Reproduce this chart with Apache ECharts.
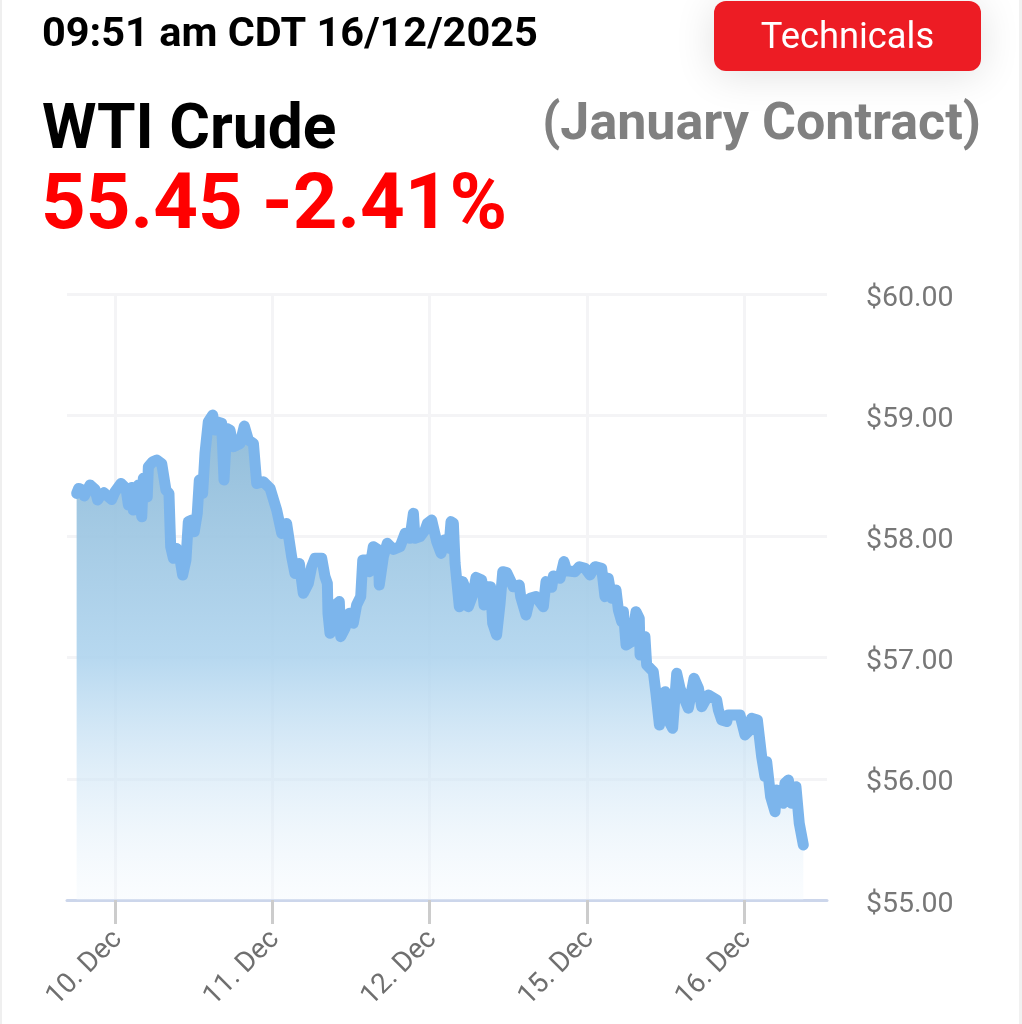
<!DOCTYPE html>
<html>
<head>
<meta charset="utf-8">
<title>WTI Crude</title>
<script src="https://cdn.jsdelivr.net/npm/echarts@6/dist/echarts.min.js"></script>
<style>
  html, body { margin: 0; padding: 0; background: #fff; }
  #chart { width: 1022px; height: 1024px; }
</style>
</head>
<body>
<div id="chart"></div>
<script>
// x is trading days counted from the 10. Dec tick, y is the price in dollars
const days = [
  -0.244,-0.231,-0.206,-0.195,-0.159,-0.127,-0.110,-0.091,-0.070,-0.042,-0.021,0.000,0.038,0.070,0.085,0.106,0.116,0.148,0.170,0.180,
  0.205,0.212,0.239,0.265,0.297,0.324,0.343,0.354,0.371,0.392,0.409,0.430,0.451,0.466,0.487,0.504,0.523,0.536,0.557,0.572,
  0.593,0.621,0.636,0.646,0.678,0.693,0.710,0.731,0.752,0.795,0.822,0.848,0.880,0.901,0.943,0.986,1.028,1.060,1.091,1.123,
  1.144,1.172,1.197,1.229,1.250,1.271,1.314,1.335,1.350,1.354,1.367,1.388,1.426,1.435,1.462,1.490,1.515,1.536,1.562,1.575,
  1.596,1.617,1.642,1.674,1.680,1.706,1.731,1.770,1.812,1.844,1.875,1.897,1.907,1.939,1.971,1.986,2.013,2.045,2.073,2.092,
  2.123,2.136,2.151,2.162,2.189,2.210,2.231,2.246,2.278,2.295,2.331,2.346,2.367,2.388,2.401,2.426,2.448,2.465,2.490,2.532,
  2.570,2.579,2.613,2.638,2.676,2.723,2.740,2.776,2.787,2.829,2.854,2.871,2.924,2.952,2.988,3.020,3.052,3.094,3.115,3.136,
  3.158,3.185,3.200,3.221,3.232,3.249,3.285,3.312,3.333,3.338,3.369,3.380,3.422,3.439,3.461,3.497,3.507,3.545,3.571,3.592,
  3.645,3.681,3.709,3.730,3.772,3.825,3.836,3.857,3.889,3.899,3.973,4.005,4.037,4.047,4.084,4.111,4.132,4.143,4.168,4.196,
  4.206,4.249,4.259,4.281,4.302,4.329,4.350,4.376
];
const prices = [
  58.355,58.396,58.382,58.333,58.424,58.388,58.300,58.341,58.360,58.327,58.305,58.369,58.437,58.396,58.259,58.404,58.217,58.424,58.162,58.479,
  58.327,58.575,58.616,58.630,58.600,58.382,58.355,57.915,57.819,57.901,57.846,57.681,57.805,58.121,58.135,58.039,58.190,58.465,58.355,58.685,
  58.946,59.001,58.877,58.946,58.933,58.465,58.891,58.877,58.740,58.767,58.910,58.795,58.767,58.437,58.451,58.396,58.217,58.025,58.107,57.832,
  57.695,57.777,57.530,57.612,57.750,57.819,57.819,57.668,57.613,57.365,57.200,57.420,57.462,57.173,57.242,57.365,57.283,57.434,57.503,57.805,
  57.805,57.709,57.915,57.888,57.599,57.833,57.943,57.893,57.915,58.025,57.984,58.190,57.984,57.998,58.053,58.108,58.135,57.957,57.860,57.970,
  57.902,58.122,58.108,57.778,57.420,57.627,57.558,57.420,57.530,57.662,57.640,57.434,57.585,57.585,57.283,57.187,57.448,57.709,57.701,57.585,
  57.599,57.503,57.352,57.489,57.503,57.420,57.627,57.580,57.673,57.654,57.792,57.717,57.709,57.750,57.737,57.682,57.750,57.737,57.503,57.654,
  57.489,57.558,57.393,57.297,57.379,57.104,57.132,57.379,57.324,57.022,57.173,56.939,56.884,56.705,56.444,56.719,56.513,56.417,56.870,56.747,
  56.582,56.829,56.747,56.595,56.692,56.650,56.568,56.485,56.472,56.527,56.527,56.362,56.403,56.499,56.485,56.183,56.018,56.142,55.853,55.729,
  55.908,55.798,55.963,55.990,55.798,55.935,55.633,55.454
];
const tickDays = [0, 1, 2, 3, 4];
const tickLabels = ['10. Dec', '11. Dec', '12. Dec', '15. Dec', '16. Dec'];
const priceTicks = [55, 56, 57, 58, 59, 60];

const timeText = '09:51 am CDT 16/12/2025';
const nameText = 'WTI Crude';
const contractText = '(January Contract)';
const quoteText = '55.45 -2.41%';
const buttonText = 'Technicals';

const FONT = 'Roboto, sans-serif';
const GRID_COLOR = '#f4f4f6';

const chart = echarts.init(document.getElementById('chart'), null, { width: 1022, height: 1024 });

// y is the top of the text box here, graphic text ignores baseline alignment
const label = (x, y, text, size, weight, fill, align) => ({
  type: 'text',
  x, y,
  style: { text, fontFamily: FONT, fontSize: size, fontWeight: weight, fill, align: align || 'left', verticalAlign: 'top' }
});

chart.setOption({
  animation: false,
  backgroundColor: '#fff',
  grid: { left: 67, right: 195, top: 294, height: 606, containLabel: false },
  xAxis: {
    type: 'value',
    min: -0.3052,
    max: 4.5264,
    axisLine: { show: true, onZero: false, lineStyle: { color: '#ccd6eb', width: 3 } },
    axisTick: { show: true, customValues: tickDays, length: 24, lineStyle: { color: '#cccccc', width: 3 } },
    axisLabel: {
      customValues: tickDays,
      rotate: 45,
      margin: 38,
      padding: [0, -4, 0, 0],
      color: '#6f6f6f',
      fontFamily: FONT,
      fontSize: 28,
      formatter: v => tickLabels[tickDays.indexOf(v)]
    },
    splitLine: { show: true, lineStyle: { color: GRID_COLOR, width: 3 } }
  },
  yAxis: {
    type: 'value',
    position: 'right',
    min: priceTicks[0],
    max: priceTicks[priceTicks.length - 1],
    interval: 1,
    axisLine: { show: false },
    axisTick: { show: false },
    axisLabel: {
      margin: 39,
      color: '#777777',
      fontFamily: FONT,
      fontSize: 28.5,
      verticalAlign: 'top',
      lineHeight: 9,
      formatter: v => '$' + v.toFixed(2)
    },
    splitLine: { show: true, lineStyle: { color: GRID_COLOR, width: 3 } }
  },
  series: [{
    type: 'line',
    data: days.map((d, i) => [d, prices[i]]),
    showSymbol: false,
    smooth: false,
    lineStyle: { color: '#7cb5ec', width: 11, cap: 'round', join: 'round' },
    areaStyle: {
      origin: 'start',
      opacity: 1,
      color: {
        type: 'linear', x: 0, y: 0, x2: 0, y2: 1,
        colorStops: [
          { offset: 0, color: 'rgba(140,185,215,0.95)' },
          { offset: 0.5, color: 'rgba(175,212,238,0.9)' },
          { offset: 1, color: 'rgba(240,247,253,0.3)' }
        ]
      }
    }
  }],
  graphic: [
    { type: 'rect', shape: { x: 0, y: 0, width: 2, height: 1024 }, style: { fill: '#efefef' } },
    { type: 'rect', shape: { x: 1019, y: 0, width: 3, height: 1024 }, style: { fill: '#f1f1f1' } },
    {
      type: 'rect',
      shape: { x: 714, y: 1, width: 267, height: 70, r: 12 },
      style: { fill: '#ed1c24', shadowBlur: 40, shadowColor: 'rgba(0,0,0,0.12)', shadowOffsetY: 4 }
    },
    label(847.5, 21, buttonText, 36.3, 400, '#ffffff', 'center'),
    label(42, 15, timeText, 41.5, 700, '#000000'),
    label(42, 101, nameText, 62.3, 700, '#000000'),
    label(981, 100, contractText, 52, 700, '#808080', 'right'),
    label(41, 169, quoteText, 78, 700, '#ff0000')
  ]
});
</script>
</body>
</html>
